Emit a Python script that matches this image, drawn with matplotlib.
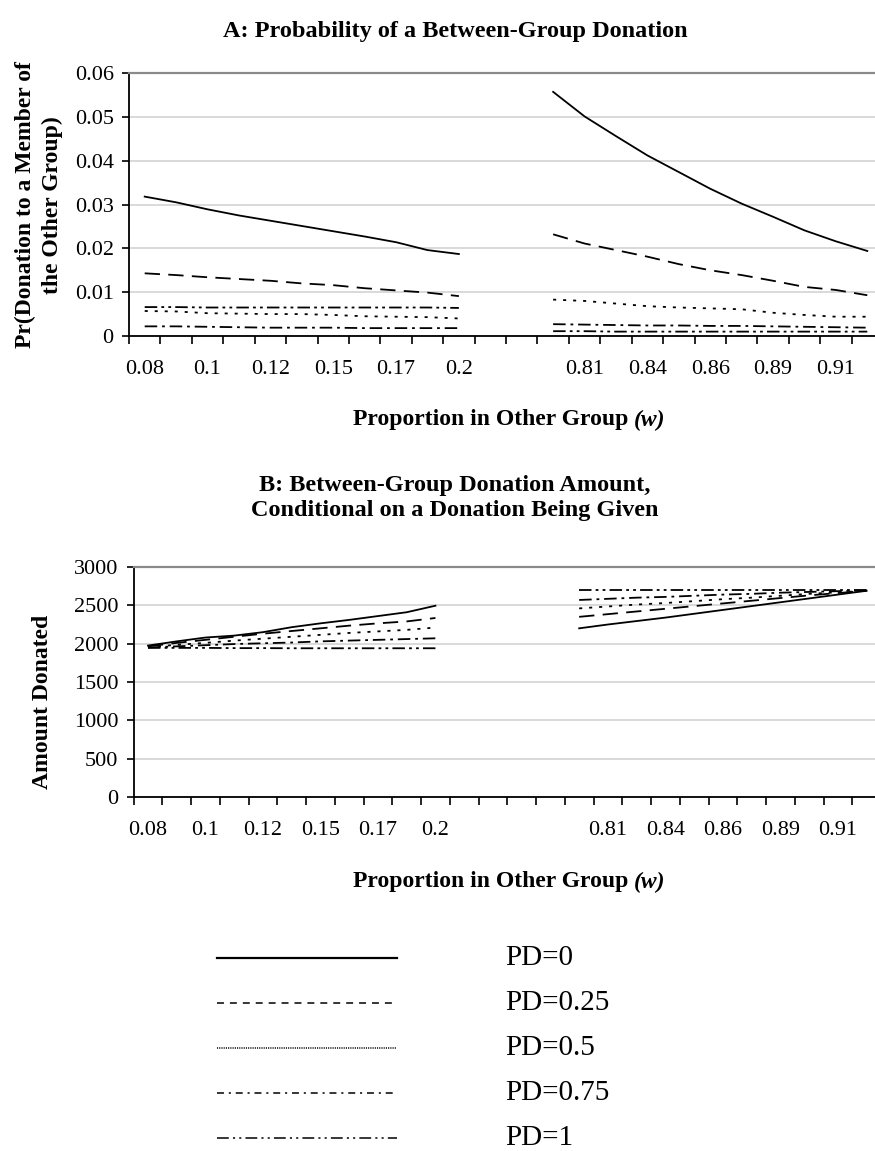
import numpy as np
import matplotlib
matplotlib.use("Agg")
from matplotlib import pyplot as plt
from matplotlib.lines import Line2D

plt.rcParams["font.family"] = ["Liberation Serif", "DejaVu Serif"]
plt.rcParams["lines.scale_dashes"] = False

W_LOW = ["0.08", "0.09", "0.1", "0.11", "0.12", "0.14", "0.15", "0.16", "0.17", "0.19", "0.2"]
W_HIGH = ["0.8", "0.81", "0.83", "0.84", "0.85", "0.86", "0.88", "0.89", "0.9", "0.91", "0.92"]
SERIES = ["PD=0", "PD=0.25", "PD=0.5", "PD=0.75", "PD=1"]

# panel A: probability of a between-group donation
prob_low = {
    "PD=0": [0.0318, 0.0305, 0.0289, 0.0275, 0.0263, 0.0251, 0.0239, 0.0227, 0.0214, 0.0196, 0.0187],
    "PD=0.25": [0.0143, 0.0139, 0.0134, 0.0130, 0.0126, 0.0120, 0.0116, 0.0109, 0.0104, 0.0099, 0.0091],
    "PD=0.5": [0.0057, 0.0056, 0.0052, 0.0051, 0.0050, 0.0050, 0.0048, 0.0045, 0.0044, 0.0043, 0.0040],
    "PD=0.75": [0.0022, 0.0022, 0.0021, 0.0020, 0.0019, 0.0019, 0.0019, 0.0018, 0.0018, 0.0018, 0.0018],
    "PD=1": [0.0066, 0.0066, 0.0065, 0.0065, 0.0065, 0.0065, 0.0065, 0.0065, 0.0065, 0.0065, 0.0064],
}
prob_high = {
    "PD=0": [0.0557, 0.0501, 0.0456, 0.0412, 0.0374, 0.0336, 0.0302, 0.0272, 0.0241, 0.0216, 0.0194],
    "PD=0.25": [0.0232, 0.0211, 0.0196, 0.0181, 0.0164, 0.0150, 0.0139, 0.0126, 0.0112, 0.0105, 0.0093],
    "PD=0.5": [0.0083, 0.0080, 0.0074, 0.0068, 0.0065, 0.0063, 0.0061, 0.0053, 0.0048, 0.0044, 0.0044],
    "PD=0.75": [0.0027, 0.0026, 0.0025, 0.0024, 0.0024, 0.0023, 0.0023, 0.0022, 0.0021, 0.0020, 0.0019],
    "PD=1": [0.0011, 0.0011, 0.0010, 0.0010, 0.0010, 0.0010, 0.0010, 0.0010, 0.0010, 0.0010, 0.0010],
}

# panel B: amount donated, given a donation
amt_low = {
    "PD=0": [1975, 2030, 2080, 2105, 2150, 2215, 2265, 2310, 2360, 2410, 2495],
    "PD=0.25": [1965, 2010, 2050, 2090, 2130, 2165, 2200, 2235, 2265, 2290, 2335],
    "PD=0.5": [1955, 1985, 2010, 2040, 2065, 2090, 2115, 2140, 2160, 2180, 2210],
    "PD=0.75": [1950, 1965, 1980, 1995, 2005, 2015, 2030, 2040, 2050, 2060, 2070],
    "PD=1": [1945, 1945, 1945, 1942, 1942, 1940, 1940, 1940, 1940, 1940, 1940],
}
amt_high = {
    "PD=0": [2200, 2250, 2295, 2340, 2390, 2440, 2490, 2540, 2590, 2640, 2690],
    "PD=0.25": [2350, 2385, 2420, 2455, 2490, 2525, 2560, 2595, 2630, 2660, 2690],
    "PD=0.5": [2460, 2485, 2510, 2530, 2555, 2580, 2600, 2625, 2650, 2670, 2690],
    "PD=0.75": [2570, 2585, 2600, 2610, 2625, 2640, 2650, 2665, 2675, 2685, 2695],
    "PD=1": [2700, 2700, 2700, 2700, 2700, 2700, 2700, 2700, 2700, 2700, 2700],
}

chart_ls = {
    "PD=0": "-",
    "PD=0.25": (0, (11, 6)),
    "PD=0.5": (0, (2.2, 5)),
    "PD=0.75": (0, (9, 3.5, 2, 3.5)),
    "PD=1": (0, (9, 3, 2, 3, 2, 3)),
}
legend_ls = {
    "PD=0": "-",
    "PD=0.25": (0, (5, 4.3)),
    "PD=0.5": (0, (0.8, 0.8)),
    "PD=0.75": (0, (5, 3.5, 1.5, 3.5)),
    "PD=1": (0, (8.5, 3, 1.5, 3, 1.5, 3)),
}

W, H = 875, 1151
fig = plt.figure(figsize=(W / 100, H / 100), dpi=100)


def px_box(left, right, top, bottom):
    return [left / W, 1 - bottom / H, (right - left) / W, (bottom - top) / H]


def panel(ax, low, high, gap, ymax, ystep, yfmt):
    cats = W_LOW + [""] * gap + W_HIGH
    n = len(cats)
    xs = np.arange(n) + 0.5
    lo_x = xs[:len(W_LOW)]
    hi_x = xs[len(W_LOW) + gap:]
    for s in SERIES:
        ax.plot(lo_x, low[s], color="black", lw=1.3, ls=chart_ls[s])
        ax.plot(hi_x, high[s], color="black", lw=1.3, ls=chart_ls[s])
    ax.set_xlim(0, n)
    ax.set_ylim(0, ymax)
    ax.set_xticks(np.arange(n + 1))
    ax.set_xticklabels([])
    ax.set_xticks(xs[::2], minor=True)
    ax.set_xticklabels([c for c in cats[::2]], minor=True, fontsize=16)
    ax.tick_params(axis="x", which="major", direction="out", length=6, width=1.2, color="black")
    ax.tick_params(axis="x", which="minor", length=0, pad=17)
    yt = np.arange(0, ymax + ystep / 2, ystep)
    ax.set_yticks(yt)
    ax.set_yticklabels([yfmt(v) for v in yt], fontsize=16)
    ax.tick_params(axis="y", direction="out", length=5, width=1.2, pad=6, color="black")
    ax.grid(axis="y", color="#d0d0d0", lw=1.1)
    ax.set_axisbelow(True)
    for side in ["left", "bottom"]:
        ax.spines[side].set_color("black")
        ax.spines[side].set_linewidth(1.3)
    ax.spines["top"].set_color("#8a8a8a")
    ax.spines["top"].set_linewidth(1.6)
    ax.spines["right"].set_color("#8a8a8a")


def xlabel(x, y):
    r = fig.canvas.get_renderer()
    yf = 1 - y / H
    t1 = fig.text(0, yf, "Proportion in Other Group ", fontsize=17, fontweight="bold", va="center")
    t2 = fig.text(0, yf, "(w)", fontsize=17, fontweight="bold", style="italic", va="center")
    w1 = t1.get_window_extent(r).width
    w2 = t2.get_window_extent(r).width
    start = x - (w1 + w2) / 2
    t1.set_x(start / W)
    t2.set_x((start + w1) / W)


axA = fig.add_axes(px_box(129, 883, 73, 336))
panel(axA, prob_low, prob_high, 2, 0.06, 0.01, lambda v: "0" if v == 0 else f"{v:.2f}")

axB = fig.add_axes(px_box(133.6, 881, 567, 797))
panel(axB, amt_low, amt_high, 4, 3000, 500, lambda v: f"{v:.0f}")

fig.text(455 / W, 1 - 32 / H, "A: Probability of a Between-Group Donation",
         ha="center", va="center", fontsize=17.5, fontweight="bold")
fig.text(455 / W, 1 - 498 / H, "B: Between-Group Donation Amount,\nConditional on a Donation Being Given",
         ha="center", va="center", fontsize=17.5, fontweight="bold", linespacing=1.25)

fig.text(39 / W, 1 - 205 / H, "Pr(Donation to a Member of\nthe Other Group)", rotation=90,
         ha="center", va="center", fontsize=17, fontweight="bold", linespacing=1.35)
fig.text(43 / W, 1 - 702 / H, "Amount Donated", rotation=90,
         ha="center", va="center", fontsize=17, fontweight="bold")

xlabel(509, 420)
xlabel(509, 882)

# legend drawn below the panels
leg_y = [958, 1003, 1048, 1093, 1138]
for s, y in zip(SERIES, leg_y):
    lw = 1.6 if s == "PD=0" else 1.1
    fig.add_artist(Line2D([217 / W, 397 / W], [1 - y / H, 1 - y / H], color="black",
                          lw=lw, ls=legend_ls[s]))
    fig.text(505 / W, 1 - y / H, s, ha="left", va="center", fontsize=21)

fig.savefig("out.png", dpi=100)
